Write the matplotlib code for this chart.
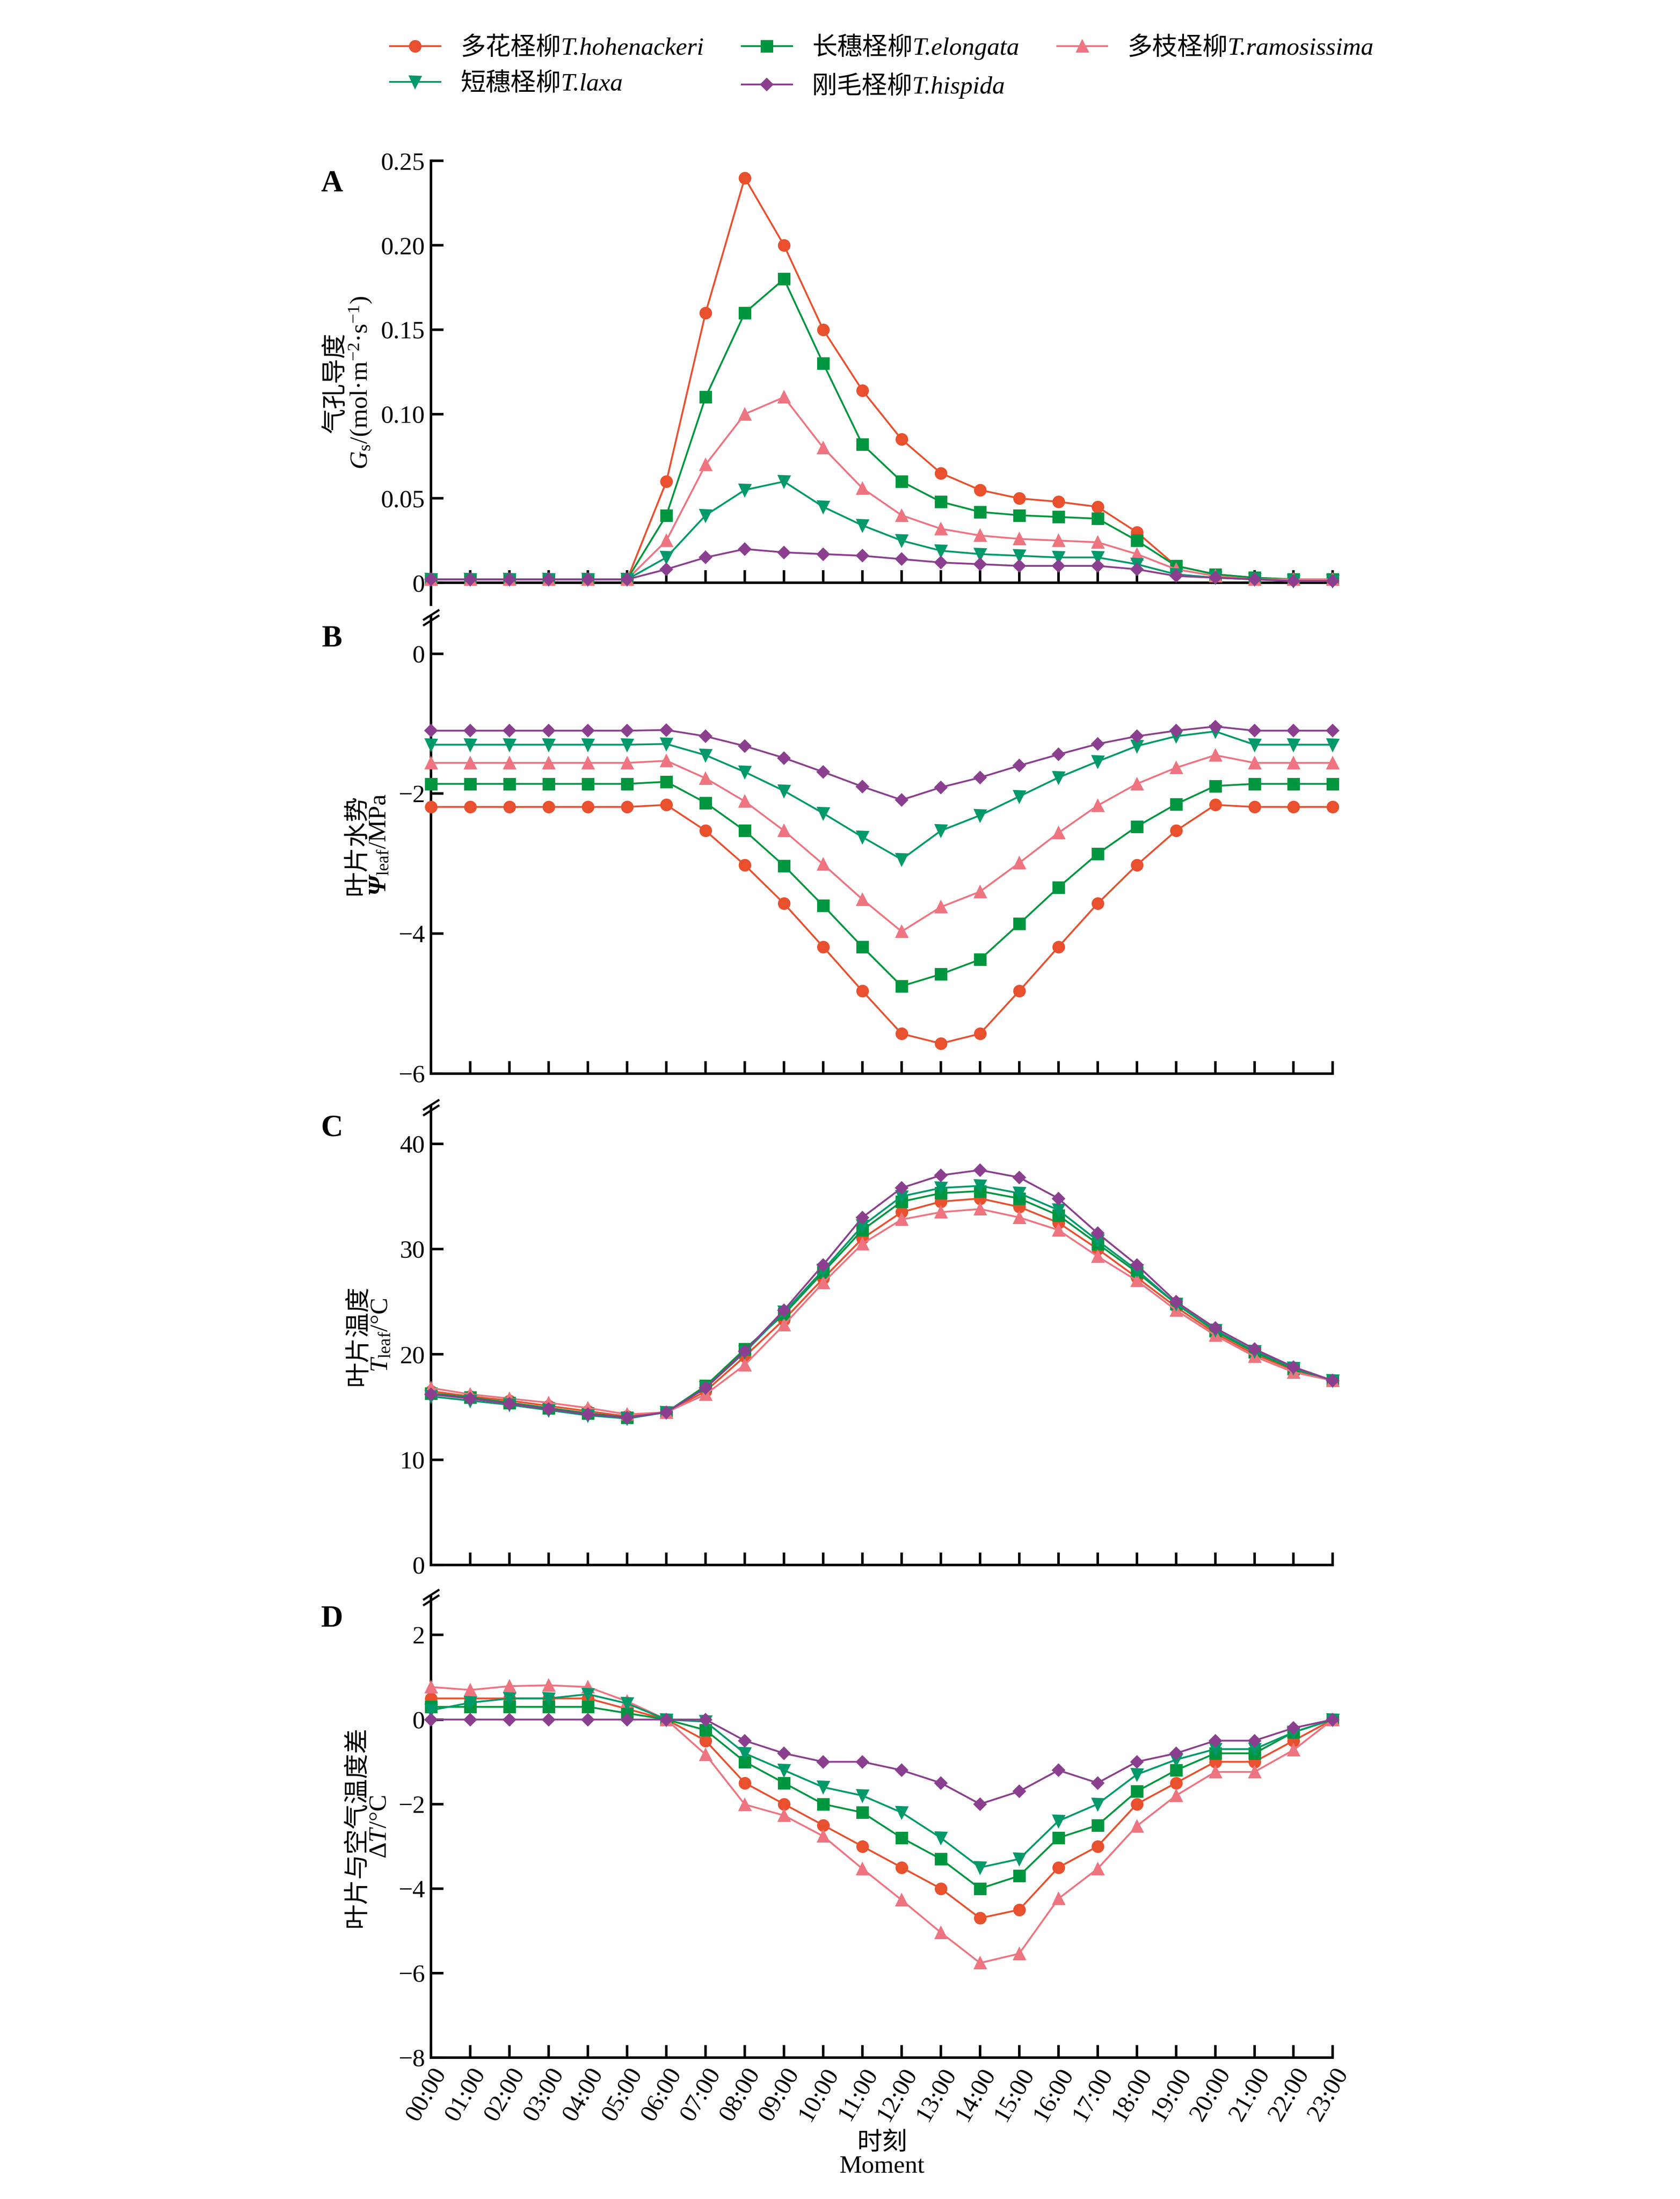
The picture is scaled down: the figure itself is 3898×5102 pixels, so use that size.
import numpy as np
import matplotlib.pyplot as plt

plt.rcParams['font.family'] = ['Liberation Serif', 'Noto Sans CJK SC']
plt.rcParams['mathtext.fontset'] = 'custom'
plt.rcParams['mathtext.rm'] = 'Liberation Serif'
plt.rcParams['mathtext.it'] = 'Liberation Serif:italic'
plt.rcParams['mathtext.bf'] = 'Liberation Serif:bold:italic'
plt.rcParams['axes.unicode_minus'] = True

hours = [f"{h:02d}:00" for h in range(24)]

species = ["hoh", "elo", "ram", "lax", "his"]
labels = {
    "hoh": "多花柽柳T.hohenackeri",
    "elo": "长穗柽柳T.elongata",
    "ram": "多枝柽柳T.ramosissima",
    "lax": "短穗柽柳T.laxa",
    "his": "刚毛柽柳T.hispida",
}
colors = {"hoh": "#E8502E", "elo": "#00963F", "ram": "#EE7480",
          "lax": "#00996A", "his": "#8B3F8F"}
markers = {"hoh": "o", "elo": "s", "ram": "^", "lax": "v", "his": "D"}
msizes = {"hoh": 6, "elo": 6, "ram": 6, "lax": 6, "his": 4.5}

gs_vals = {
    "hoh": [0.002]*6 + [0.06, 0.16, 0.24, 0.20, 0.15, 0.114, 0.085, 0.065, 0.055, 0.05, 0.048, 0.045, 0.03, 0.01, 0.005, 0.003, 0.002, 0.002],
    "elo": [0.002]*6 + [0.04, 0.11, 0.16, 0.18, 0.13, 0.082, 0.06, 0.048, 0.042, 0.04, 0.039, 0.038, 0.025, 0.01, 0.005, 0.003, 0.002, 0.002],
    "ram": [0.002]*6 + [0.025, 0.07, 0.10, 0.11, 0.08, 0.056, 0.04, 0.032, 0.028, 0.026, 0.025, 0.024, 0.017, 0.008, 0.004, 0.002, 0.002, 0.002],
    "lax": [0.002]*6 + [0.015, 0.04, 0.055, 0.06, 0.045, 0.034, 0.025, 0.019, 0.017, 0.016, 0.015, 0.015, 0.011, 0.005, 0.003, 0.002, 0.001, 0.001],
    "his": [0.002]*6 + [0.008, 0.015, 0.02, 0.018, 0.017, 0.016, 0.014, 0.012, 0.011, 0.010, 0.010, 0.010, 0.008, 0.004, 0.003, 0.002, 0.001, 0.001],
}
psi_vals = {
    "his": [-1.10]*6 + [-1.09, -1.18, -1.32, -1.49, -1.69, -1.90, -2.09, -1.91, -1.77, -1.60, -1.44, -1.29, -1.18, -1.10, -1.04, -1.10, -1.10, -1.10],
    "lax": [-1.30]*6 + [-1.29, -1.45, -1.69, -1.96, -2.28, -2.62, -2.94, -2.53, -2.31, -2.04, -1.77, -1.54, -1.32, -1.18, -1.11, -1.30, -1.30, -1.30],
    "ram": [-1.56]*6 + [-1.53, -1.78, -2.11, -2.53, -3.01, -3.51, -3.97, -3.62, -3.40, -2.99, -2.56, -2.17, -1.86, -1.63, -1.45, -1.56, -1.56, -1.56],
    "elo": [-1.86]*6 + [-1.83, -2.13, -2.53, -3.03, -3.60, -4.19, -4.75, -4.58, -4.37, -3.86, -3.34, -2.86, -2.47, -2.15, -1.89, -1.86, -1.86, -1.86],
    "hoh": [-2.19]*6 + [-2.16, -2.53, -3.02, -3.57, -4.19, -4.82, -5.43, -5.57, -5.43, -4.82, -4.19, -3.57, -3.02, -2.53, -2.16, -2.19, -2.19, -2.19],
}
tleaf_vals = {
    "his": [16.2, 15.8, 15.3, 14.8, 14.3, 14.0, 14.5, 16.8, 20.3, 24.2, 28.5, 33.0, 35.8, 37.0, 37.5, 36.8, 34.8, 31.5, 28.5, 25.0, 22.5, 20.5, 18.8, 17.5],
    "lax": [16.0, 15.6, 15.2, 14.7, 14.2, 13.9, 14.5, 16.8, 20.2, 24.0, 28.0, 32.2, 35.0, 35.8, 36.0, 35.3, 33.7, 30.8, 28.0, 24.8, 22.3, 20.3, 18.7, 17.5],
    "elo": [16.3, 15.9, 15.4, 14.9, 14.4, 14.0, 14.5, 17.0, 20.5, 23.8, 27.8, 31.8, 34.5, 35.3, 35.5, 34.8, 33.2, 30.5, 27.8, 24.8, 22.2, 20.2, 18.6, 17.5],
    "hoh": [16.5, 16.0, 15.6, 15.1, 14.6, 14.1, 14.5, 16.5, 19.8, 23.3, 27.2, 31.0, 33.5, 34.5, 34.8, 34.0, 32.5, 30.0, 27.3, 24.5, 22.0, 20.0, 18.5, 17.5],
    "ram": [16.8, 16.2, 15.8, 15.4, 14.9, 14.3, 14.5, 16.2, 19.0, 22.8, 26.8, 30.5, 32.8, 33.5, 33.8, 33.0, 31.8, 29.3, 27.0, 24.2, 21.8, 19.8, 18.3, 17.5],
}
dt_vals = {
    "ram": [0.77, 0.70, 0.79, 0.81, 0.77, 0.43, 0.0, -0.83, -2.01, -2.27, -2.76, -3.53, -4.27, -5.04, -5.76, -5.54, -4.24, -3.53, -2.52, -1.80, -1.24, -1.24, -0.72, 0.0],
    "hoh": [0.5, 0.5, 0.5, 0.5, 0.5, 0.25, 0.0, -0.5, -1.5, -2.0, -2.5, -3.0, -3.5, -4.0, -4.7, -4.5, -3.5, -3.0, -2.0, -1.5, -1.0, -1.0, -0.5, 0.0],
    "lax": [0.22, 0.40, 0.50, 0.50, 0.60, 0.38, 0.0, -0.05, -0.8, -1.2, -1.6, -1.8, -2.2, -2.8, -3.5, -3.3, -2.4, -2.0, -1.3, -0.95, -0.7, -0.7, -0.3, 0.0],
    "elo": [0.3, 0.3, 0.3, 0.3, 0.3, 0.15, 0.0, -0.25, -1.0, -1.5, -2.0, -2.2, -2.8, -3.3, -4.0, -3.7, -2.8, -2.5, -1.7, -1.2, -0.8, -0.8, -0.3, 0.0],
    "his": [0.0]*8 + [-0.5, -0.8, -1.0, -1.0, -1.2, -1.5, -2.0, -1.7, -1.2, -1.5, -1.0, -0.8, -0.5, -0.5, -0.2, 0.0],
}

H = 1571.0
def frac(top, bottom):
    return 1 - bottom / H, (bottom - top) / H

left, width = 308 / 1200, (952 - 308) / 1200
panels = [
    ("A", gs_vals, (115, 432), (-0.013, 0.25), [0, 0.05, 0.10, 0.15, 0.20, 0.25],
     ["0", "0.05", "0.10", "0.15", "0.20", "0.25"], 0,
     "气孔导度\n$\\mathit{G}_{\\mathrm{s}}$/(mol·m$^{-2}$·s$^{-1}$)"),
    ("B", psi_vals, (440, 767), (-6, 0.54), [0, -2, -4, -6], ["0", "−2", "−4", "−6"], -6,
     "叶片水势\n$\\mathbf{\\Psi}_{\\mathrm{leaf}}$/MPa"),
    ("C", tleaf_vals, (790, 1118), (0, 43.6), [0, 10, 20, 30, 40], ["0", "10", "20", "30", "40"], 0,
     "叶片温度\n$\\mathit{T}_{\\mathrm{leaf}}$/°C"),
    ("D", dt_vals, (1140, 1470), (-8, 2.93), [2, 0, -2, -4, -6, -8], ["2", "0", "−2", "−4", "−6", "−8"], -8,
     "叶片与空气温度差\nΔ$\\mathit{T}$/°C"),
]

fig = plt.figure(figsize=(3898 / 300, 5102 / 300), dpi=300)
x = np.arange(24)
axes = []
for letter, data, (top, bot), ylim, yt, ytl, xpos, ylab in panels:
    b, h = frac(top, bot)
    ax = fig.add_axes([left, b, width, h])
    for sp in species:
        ax.plot(x, data[sp], color=colors[sp], marker=markers[sp], ms=msizes[sp],
                lw=1.0, label=labels[sp], clip_on=False, zorder=3)
    ax.set_xlim(0, 23)
    ax.set_ylim(*ylim)
    ax.set_yticks(yt)
    ax.set_yticklabels(ytl)
    ax.spines["top"].set_visible(False)
    ax.spines["right"].set_visible(False)
    ax.spines["bottom"].set_position(("data", xpos))
    for s in ("left", "bottom"):
        ax.spines[s].set_linewidth(1.4)
    ax.tick_params(direction="in", length=7, width=1.4, labelsize=14)
    ax.set_xticks(x)
    if letter == "D":
        ax.set_xticklabels(hours, rotation=60, ha="right", rotation_mode="anchor", fontsize=14)
        ax.set_xlabel("时刻\nMoment", fontsize=14, linespacing=1.0)
    else:
        ax.set_xticklabels([])
    ax.set_ylabel(ylab, fontsize=14, linespacing=1.0, labelpad=4)
    ax.text(-0.11, 0.98, letter, transform=ax.transAxes, fontsize=17,
            fontweight="bold", ha="center", va="top")
    if letter != "A":
        for dy in (0.0, 0.012):
            ax.plot([-0.008, 0.008], [0.98 + dy, 1.0 + dy], transform=ax.transAxes,
                    color="black", lw=1.2, clip_on=False)
    axes.append(ax)

handles, labs = axes[0].get_legend_handles_labels()
order = [0, 3, 1, 4, 2]  # row-major fill: hoh, elo, ram / lax, his
fig.legend([handles[i] for i in order], [labs[i] for i in order],
           loc="upper center", bbox_to_anchor=(0.525, 0.995), ncol=3,
           frameon=False, prop={"size": 14, "style": "italic"},
           handlelength=2.0, columnspacing=1.5)

fig.savefig("out.png", dpi=300)
